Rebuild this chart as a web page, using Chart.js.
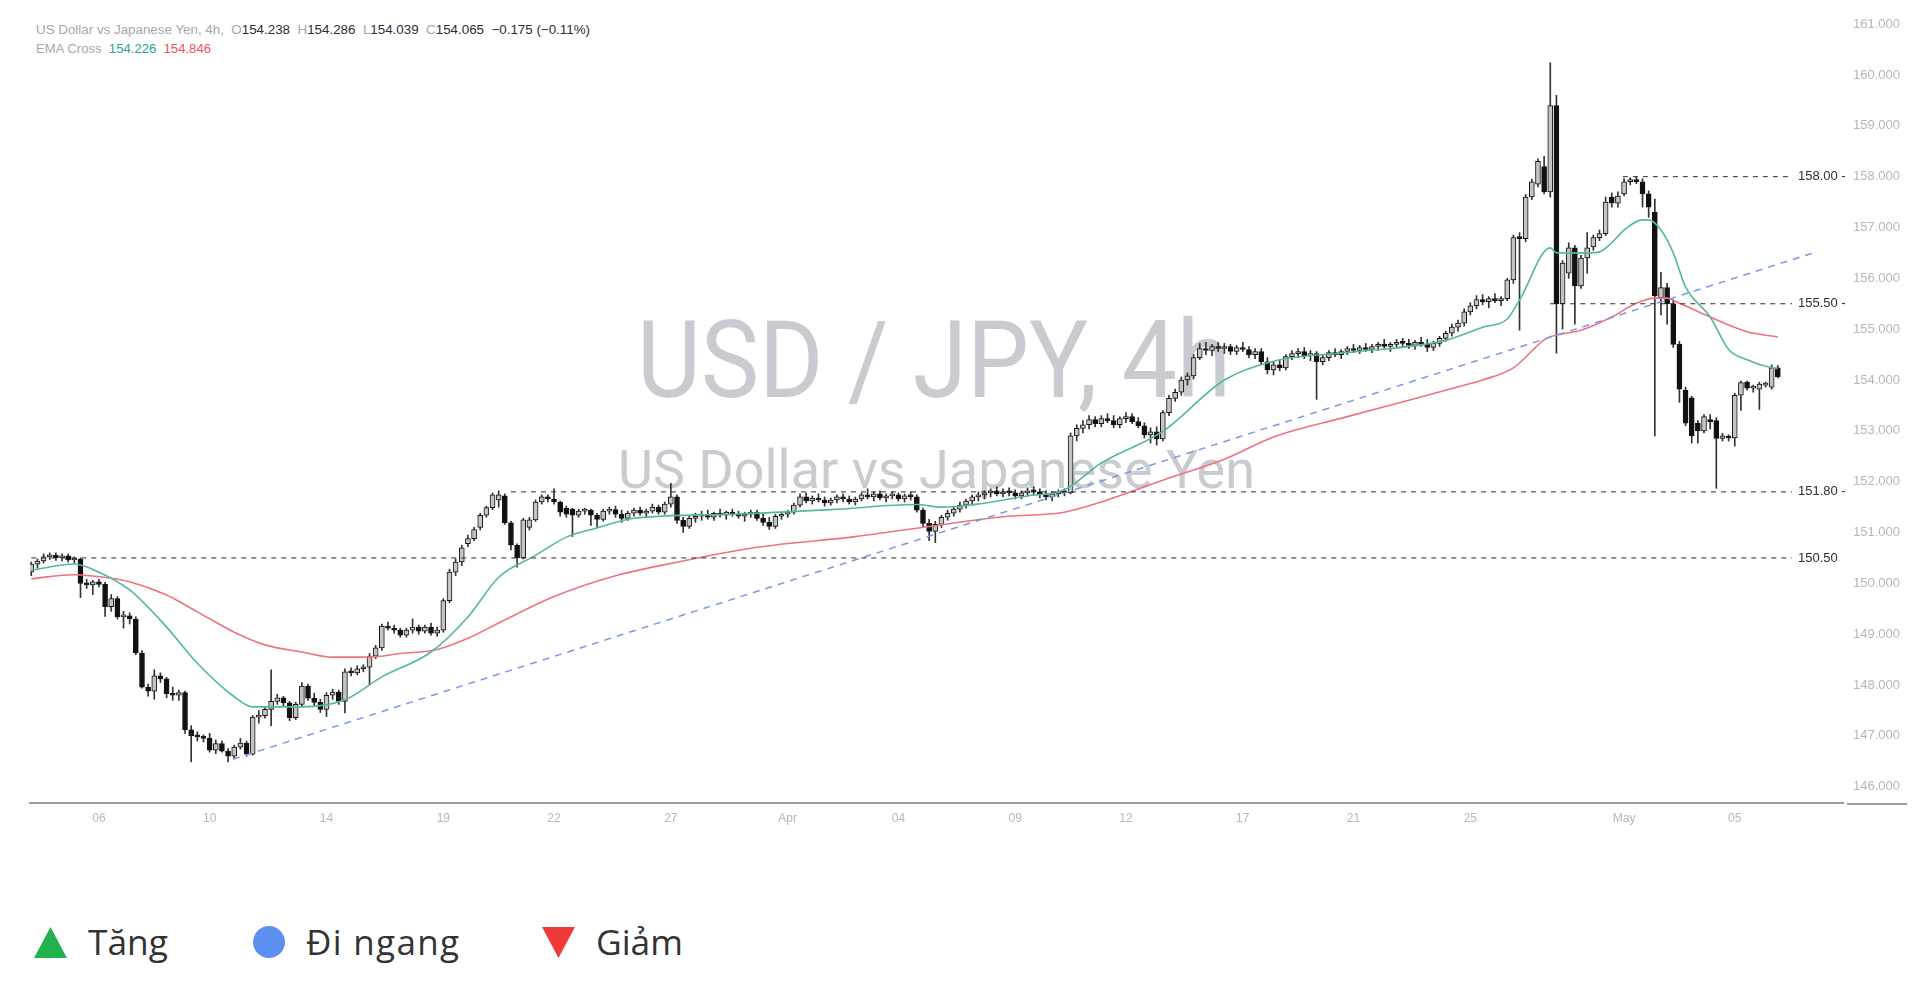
<!DOCTYPE html>
<html>
<head>
<meta charset="utf-8">
<script src="https://cdn.jsdelivr.net/npm/chart.js@4.4.1/dist/chart.umd.min.js"></script>
<style>
html,body{margin:0;padding:0;background:#fff;width:1920px;height:995px;overflow:hidden;}
#wrap{position:relative;width:1920px;height:995px;}
#bg{position:absolute;left:0;top:0;z-index:0;}
#c{position:absolute;left:0;top:0;z-index:1;}
</style>
</head>
<body>
<div id="wrap">
<svg id="bg" width="1920" height="995" xmlns="http://www.w3.org/2000/svg">
  <text x="637" y="397" font-family="Roboto, 'Liberation Sans', sans-serif" font-size="108" fill="#c9cbd0" textLength="594" lengthAdjust="spacingAndGlyphs">USD / JPY, 4h</text>
  <text x="618" y="488" font-family="Roboto, 'Liberation Sans', sans-serif" font-size="53" fill="#c9cbd0" textLength="637" lengthAdjust="spacingAndGlyphs">US Dollar vs Japanese Yen</text>
  <text x="36" y="34" font-family="'Liberation Sans', sans-serif" font-size="12.5" style="white-space:pre" textLength="554" lengthAdjust="spacingAndGlyphs"><tspan fill="#a3a6af">US Dollar vs Japanese Yen, 4h,  O</tspan><tspan fill="#2a2e39">154.238</tspan><tspan fill="#a3a6af">  H</tspan><tspan fill="#2a2e39">154.286</tspan><tspan fill="#a3a6af">  L</tspan><tspan fill="#2a2e39">154.039</tspan><tspan fill="#a3a6af">  C</tspan><tspan fill="#2a2e39">154.065  −0.175 (−0.11%)</tspan></text>
  <text x="36" y="53" font-family="'Liberation Sans', sans-serif" font-size="12.5" style="white-space:pre" textLength="175" lengthAdjust="spacingAndGlyphs"><tspan fill="#a3a6af">EMA Cross  </tspan><tspan fill="#26a38f">154.226</tspan><tspan fill="#a3a6af">  </tspan><tspan fill="#ef4f62">154.846</tspan></text>
  <polygon points="34,958 67,958 50.5,927" fill="#22b14c"/>
  <text x="88" y="955" font-family="'Open Sans', sans-serif" font-size="35" fill="#333333" textLength="80" lengthAdjust="spacingAndGlyphs">Tăng</text>
  <circle cx="269" cy="942" r="16" fill="#5b8ff0"/>
  <text x="306" y="955" font-family="'Open Sans', sans-serif" font-size="35" fill="#333333" textLength="153" lengthAdjust="spacing">Đi ngang</text>
  <polygon points="542,927 575,927 558.5,958" fill="#f03a3a"/>
  <text x="596" y="955" font-family="'Open Sans', sans-serif" font-size="35" fill="#333333" textLength="87" lengthAdjust="spacingAndGlyphs">Giảm</text>
</svg>
<canvas id="c" width="1920" height="995"></canvas>
</div>
<script>
// ---- Candles (4h USD/JPY), bar index 0..284 ----
const opens = [
150.22,150.38,150.44,150.52,150.55,150.50,150.54,150.46,150.48,150.00,
149.97,150.03,149.98,149.54,149.70,149.34,149.36,149.30,148.63,147.96,
147.88,148.18,148.12,147.83,147.80,147.85,147.12,147.00,146.98,146.95,
146.72,146.85,146.70,146.60,146.78,146.86,146.64,147.37,147.40,147.52,
147.68,147.75,147.65,147.36,147.62,147.98,147.74,147.66,147.52,147.80,
147.86,147.68,148.26,148.24,148.32,148.35,148.57,148.73,149.16,149.12,
149.08,148.98,149.08,149.14,149.06,149.14,149.02,149.08,149.66,150.22,
150.42,150.78,150.88,151.10,151.34,151.49,151.64,151.72,151.19,150.75,
150.50,151.10,151.25,151.60,151.70,151.66,151.60,151.48,151.46,151.34,
151.42,151.44,151.34,151.26,151.42,151.45,151.36,151.28,151.38,151.44,
151.38,151.42,151.50,151.40,151.56,151.70,151.24,151.12,151.28,151.32,
151.36,151.30,151.38,151.34,151.40,151.36,151.32,151.36,151.40,151.28,
151.20,151.12,151.32,151.36,151.40,151.54,151.70,151.62,151.68,151.64,
151.58,151.64,151.70,151.66,151.60,151.66,151.74,151.70,151.76,151.68,
151.72,151.74,151.66,151.72,151.70,151.44,151.18,151.02,151.16,151.30,
151.38,151.46,151.54,151.62,151.70,151.74,151.78,151.82,151.76,151.80,
151.78,151.72,151.78,151.82,151.80,151.74,151.70,151.76,151.80,151.78,
152.90,153.05,153.12,153.22,153.14,153.24,153.20,153.12,153.24,153.28,
153.18,153.10,152.92,152.98,152.84,153.36,153.64,153.76,154.00,154.08,
154.44,154.62,154.58,154.66,154.62,154.66,154.56,154.64,154.60,154.50,
154.56,154.36,154.20,154.30,154.24,154.46,154.52,154.56,154.48,154.52,
154.36,154.44,154.54,154.50,154.56,154.62,154.58,154.64,154.60,154.66,
154.70,154.66,154.70,154.74,154.72,154.68,154.74,154.70,154.64,154.72,
154.82,154.92,155.04,155.12,155.34,155.46,155.58,155.54,155.60,155.56,
155.60,155.97,156.80,156.78,157.60,157.85,158.20,157.70,159.40,155.50,
156.10,156.60,155.85,156.40,156.62,156.80,156.88,157.60,157.48,157.66,
157.90,157.94,157.90,157.66,157.30,155.62,155.82,155.50,154.70,153.80,
153.65,153.15,153.00,153.22,153.20,152.85,152.88,152.86,153.70,153.96,
153.84,153.82,153.90,153.86,154.238];
const highs = [
150.42,150.48,150.58,150.60,150.60,150.58,150.58,150.52,150.50,150.08,
150.06,150.08,150.02,149.78,149.74,149.45,149.42,149.34,148.68,148.02,
148.30,148.24,148.15,147.96,147.90,147.88,147.20,147.08,147.02,147.05,
146.92,146.90,146.75,146.82,146.95,146.90,147.40,147.50,147.58,148.30,
147.82,147.78,147.68,147.66,148.05,148.02,147.84,147.72,147.85,147.92,
147.90,148.32,148.34,148.38,148.40,148.62,148.78,149.20,149.24,149.18,
149.12,149.12,149.30,149.18,149.18,149.22,149.14,149.70,150.28,150.48,
150.75,150.95,151.10,151.38,151.52,151.78,151.82,151.76,151.22,150.78,
151.28,151.30,151.64,151.74,151.74,151.86,151.62,151.52,151.48,151.46,
151.48,151.46,151.38,151.46,151.50,151.52,151.44,151.42,151.48,151.50,
151.46,151.56,151.54,151.60,151.97,151.74,151.30,151.32,151.38,151.42,
151.44,151.40,151.46,151.42,151.46,151.42,151.40,151.44,151.44,151.36,
151.30,151.36,151.40,151.44,151.58,151.76,151.78,151.72,151.76,151.70,
151.68,151.74,151.76,151.72,151.70,151.78,151.86,151.80,151.82,151.76,
151.80,151.78,151.76,151.80,151.74,151.48,151.26,151.22,151.34,151.44,
151.50,151.60,151.66,151.74,151.80,151.82,151.86,151.90,151.86,151.88,
151.84,151.82,151.88,151.90,151.86,151.82,151.80,151.84,151.86,152.96,
153.12,153.20,153.30,153.28,153.30,153.34,153.30,153.28,153.36,153.34,
153.26,153.16,153.06,153.08,153.40,153.70,153.82,154.06,154.14,154.50,
154.72,154.74,154.70,154.74,154.72,154.70,154.68,154.74,154.66,154.62,
154.62,154.44,154.36,154.40,154.50,154.58,154.62,154.64,154.58,154.56,
154.50,154.58,154.62,154.60,154.66,154.70,154.68,154.72,154.70,154.74,
154.80,154.74,154.80,154.82,154.80,154.78,154.84,154.80,154.76,154.86,
154.96,155.10,155.18,155.40,155.52,155.66,155.68,155.64,155.70,155.64,
156.00,156.85,156.90,157.65,157.95,158.35,158.40,160.24,159.60,156.35,
156.70,156.65,156.45,156.90,156.85,156.95,157.60,157.68,157.70,157.96,
157.98,158.00,157.96,157.72,157.56,156.12,155.90,155.58,154.76,153.86,
153.68,153.20,153.32,153.32,153.26,152.95,152.92,153.74,153.98,153.98,
153.90,153.96,153.96,154.30,154.286];
const lows = [
150.15,150.30,150.40,150.47,150.45,150.44,150.42,150.40,149.72,149.90,
149.78,149.93,149.35,149.45,149.30,149.12,149.20,148.60,147.94,147.78,
147.72,148.05,147.75,147.70,147.70,147.05,146.49,146.90,146.88,146.68,
146.65,146.68,146.49,146.55,146.74,146.60,146.62,147.25,147.35,147.20,
147.62,147.58,147.30,147.32,147.58,147.70,147.60,147.46,147.38,147.72,
147.62,147.45,148.18,148.20,148.26,148.00,148.52,148.68,149.08,149.02,
148.94,148.94,149.02,149.00,149.02,148.98,148.96,149.04,149.62,150.15,
150.35,150.72,150.84,151.05,151.30,151.45,151.50,151.16,150.66,150.32,
150.48,151.05,151.22,151.56,151.60,151.56,151.32,151.30,150.92,151.30,
151.36,151.14,151.10,151.22,151.36,151.30,151.20,151.24,151.32,151.34,
151.30,151.38,151.36,151.36,151.50,151.18,151.00,151.08,151.20,151.24,
151.26,151.24,151.30,151.26,151.32,151.28,151.22,151.30,151.24,151.14,
151.06,151.08,151.26,151.30,151.36,151.50,151.58,151.56,151.60,151.52,
151.54,151.58,151.60,151.56,151.54,151.62,151.66,151.62,151.64,151.60,
151.66,151.62,151.60,151.64,151.40,151.10,150.84,150.80,151.10,151.24,
151.32,151.40,151.48,151.54,151.62,151.66,151.70,151.72,151.70,151.72,
151.66,151.66,151.72,151.74,151.68,151.64,151.62,151.70,151.72,151.76,
152.80,152.96,153.04,153.08,153.08,153.16,153.06,153.06,153.16,153.14,
153.06,152.86,152.76,152.72,152.80,153.30,153.58,153.70,153.90,154.02,
154.40,154.50,154.48,154.56,154.52,154.50,154.50,154.56,154.44,154.42,
154.30,154.12,154.10,154.18,154.20,154.40,154.44,154.42,154.38,153.62,
154.30,154.38,154.46,154.42,154.50,154.54,154.52,154.56,154.54,154.58,
154.62,154.56,154.64,154.66,154.62,154.60,154.66,154.56,154.58,154.66,
154.76,154.86,154.96,155.06,155.28,155.40,155.48,155.42,155.52,155.46,
155.56,155.90,154.98,156.72,157.55,157.80,157.66,157.60,154.53,155.00,
156.00,155.10,155.80,156.10,156.55,156.74,156.84,157.40,157.40,157.62,
157.84,157.86,157.40,157.20,152.90,155.28,155.10,154.64,153.56,153.10,
152.76,152.76,152.96,153.04,151.87,152.80,152.80,152.70,153.40,153.80,
153.76,153.42,153.86,153.82,154.039];
const closes = [
150.38,150.44,150.52,150.55,150.50,150.54,150.46,150.48,150.00,149.97,
150.03,149.98,149.54,149.70,149.34,149.36,149.30,148.63,147.96,147.88,
148.18,148.12,147.83,147.80,147.85,147.12,147.00,146.98,146.95,146.72,
146.85,146.70,146.60,146.78,146.86,146.64,147.37,147.40,147.52,147.68,
147.75,147.65,147.36,147.62,147.98,147.74,147.66,147.52,147.80,147.86,
147.68,148.26,148.24,148.32,148.35,148.57,148.73,149.16,149.12,149.08,
148.98,149.08,149.14,149.06,149.14,149.02,149.08,149.66,150.22,150.42,
150.70,150.88,151.06,151.34,151.49,151.74,151.74,151.19,150.75,150.50,
151.25,151.25,151.60,151.70,151.66,151.60,151.40,151.36,151.34,151.42,
151.44,151.34,151.26,151.42,151.45,151.36,151.28,151.38,151.44,151.38,
151.42,151.50,151.40,151.56,151.70,151.24,151.12,151.28,151.32,151.36,
151.30,151.38,151.34,151.40,151.36,151.32,151.36,151.40,151.28,151.20,
151.12,151.32,151.36,151.40,151.54,151.70,151.62,151.68,151.64,151.58,
151.64,151.70,151.66,151.60,151.66,151.74,151.70,151.76,151.68,151.72,
151.74,151.66,151.72,151.70,151.44,151.18,151.02,151.16,151.30,151.38,
151.46,151.54,151.62,151.70,151.74,151.78,151.82,151.76,151.80,151.78,
151.72,151.78,151.82,151.80,151.74,151.70,151.76,151.80,151.78,152.90,
153.05,153.12,153.22,153.14,153.24,153.20,153.12,153.24,153.28,153.18,
153.10,152.92,152.98,152.84,153.36,153.64,153.76,154.00,154.08,154.44,
154.62,154.58,154.66,154.62,154.66,154.56,154.64,154.60,154.50,154.56,
154.36,154.20,154.30,154.24,154.46,154.52,154.56,154.48,154.52,154.36,
154.44,154.54,154.50,154.56,154.62,154.58,154.64,154.60,154.66,154.70,
154.66,154.70,154.74,154.72,154.68,154.74,154.70,154.64,154.72,154.82,
154.92,155.04,155.12,155.34,155.46,155.58,155.54,155.60,155.56,155.60,
155.97,156.80,156.78,157.60,157.90,158.30,157.70,159.40,155.50,156.30,
156.60,155.85,156.40,156.60,156.80,156.88,157.50,157.48,157.62,157.90,
157.94,157.90,157.66,157.40,155.66,155.82,155.50,154.70,153.82,153.15,
152.90,153.00,153.28,153.18,152.85,152.90,152.86,153.70,153.95,153.84,
153.86,153.92,153.94,154.24,154.065];

// ---- EMA Cross lines at these bar indexes ----
const emaFastBars = [0,7,11,16,22,27,33,36,44,51,57,65,71,76,82,87,92,98,114,130,144,148,162,168,174,184,194,202,214,230,236,240,242,247,248,253,255,257,259,262,263,265,267,269,273,276,279,283,284];
const emaFastVals = [150.26,150.38,150.22,149.87,149.14,148.43,147.77,147.57,147.57,147.71,148.16,148.65,149.34,150.12,150.55,150.91,151.09,151.28,151.36,151.45,151.55,151.50,151.72,151.84,152.37,152.99,154.00,154.37,154.54,154.78,155.04,155.20,155.57,156.60,156.50,156.50,156.52,156.70,156.95,157.15,157.15,156.95,156.50,155.83,155.24,154.60,154.40,154.24,154.226];
const emaSlowBars = [0,7,13,16,22,27,33,38,44,49,55,60,66,71,76,85,95,106,118,134,146,158,168,174,184,194,202,214,224,234,236,241,246,247,252,257,261,264,266,268,273,276,279,284];
const emaSlowVals = [150.09,150.17,150.10,150.03,149.77,149.44,149.04,148.79,148.65,148.55,148.55,148.62,148.70,148.92,149.22,149.74,150.15,150.44,150.71,150.92,151.12,151.31,151.40,151.60,152.03,152.44,152.88,153.28,153.60,153.93,154.00,154.24,154.79,154.85,154.98,155.24,155.51,155.61,155.61,155.51,155.24,155.08,154.95,154.846];

// ---- Drawn levels and trend line ----
const levelValues = [158.00, 155.50, 151.80, 150.50];
const levelTexts = ['158.00 -', '155.50 -', '151.80 -', '150.50'];
const levelStartBars = [258.8, 247, 78, 0];
const levelEndBar = 286.3;
const trendBars = [32.8, 289.5];
const trendVals = [146.54, 156.49];

// ---- Axis ticks ----
const xTickBars = [11,29,48,67,85,104,123,141,160,178,197,215,234,259,277];
const xTickLabels = ['06','10','14','19','22','27','Apr','04','09','12','17','21','25','May','05'];
const yTicks = [146,147,148,149,150,151,152,153,154,155,156,157,158,159,160,161];

// ---- build datasets ----
const wickData = highs.map((h, i) => ({x: i, y: [lows[i], h]}));
const bodyData = opens.map((o, i) => ({x: i, y: [o, closes[i]]}));
const isUp = i => closes[i] >= opens[i];

const levelSets = levelValues.map((v, i) => ({
  type: 'line',
  data: [{x: levelStartBars[i], y: v}, {x: levelEndBar, y: v}],
  borderColor: '#2e2e2e', borderWidth: 1, borderDash: [5, 5],
  pointRadius: 0, order: 0
}));

const axisColor = '#9c9c9c';
const levelLabelPlugin = {
  id: 'levelLabels',
  afterDatasetsDraw(chart) {
    const {ctx, scales: {x, y}} = chart;
    ctx.save();
    ctx.font = '13px "Liberation Sans", sans-serif';
    ctx.fillStyle = '#2f2f2f';
    ctx.textAlign = 'left';
    ctx.textBaseline = 'middle';
    levelValues.forEach((v, i) => {
      ctx.fillText(levelTexts[i], x.getPixelForValue(levelEndBar) + 6, y.getPixelForValue(v));
    });
    // continuation of the time axis line under the price scale
    const ay = chart.chartArea.bottom + 1;
    ctx.strokeStyle = axisColor;
    ctx.lineWidth = 2;
    ctx.beginPath();
    ctx.moveTo(chart.chartArea.right + 4, ay);
    ctx.lineTo(chart.chartArea.right + 64, ay);
    ctx.stroke();
    ctx.restore();
  }
};

new Chart(document.getElementById('c'), {
  type: 'bar',
  data: {
    datasets: [
      ...levelSets,
      {
        type: 'line',
        data: trendBars.map((b, i) => ({x: b, y: trendVals[i]})),
        borderColor: '#7b98e6', borderWidth: 1.5, borderDash: [7, 6],
        pointRadius: 0, order: 0
      },
      {
        type: 'line',
        data: emaFastBars.map((b, i) => ({x: b, y: emaFastVals[i]})),
        borderColor: '#52b8a0', borderWidth: 1.6, pointRadius: 0,
        cubicInterpolationMode: 'monotone', order: 1
      },
      {
        type: 'line',
        data: emaSlowBars.map((b, i) => ({x: b, y: emaSlowVals[i]})),
        borderColor: '#ee7280', borderWidth: 1.6, pointRadius: 0,
        cubicInterpolationMode: 'monotone', order: 1
      },
      {
        data: bodyData,
        barThickness: 5,
        grouped: false,
        minBarLength: 2,
        borderSkipped: false,
        borderWidth: 1,
        borderColor: '#151515',
        backgroundColor: c => isUp(c.dataIndex) ? '#c4c4c4' : '#111111',
        order: 2
      },
      {
        data: wickData,
        barThickness: 1,
        grouped: false,
        borderWidth: 0,
        backgroundColor: '#333333',
        order: 3
      }
    ]
  },
  options: {
    responsive: false,
    animation: false,
    events: [],
    layout: {padding: {left: 30, top: 10, right: 0, bottom: 0}},
    plugins: {legend: {display: false}, tooltip: {enabled: false}},
    scales: {
      x: {
        type: 'linear',
        offset: false,
        min: -0.21,
        max: 294.6,
        grid: {display: false, drawTicks: false},
        border: {display: true, color: axisColor, width: 2},
        afterBuildTicks: s => { s.ticks = xTickBars.map(v => ({value: v})); },
        ticks: {
          autoSkip: false,
          maxRotation: 0,
          padding: 8,
          color: '#b4b7be',
          font: {family: "'Liberation Sans', sans-serif", size: 12},
          callback: v => xTickLabels[xTickBars.indexOf(v)]
        },
        afterFit: s => { s.height = 192; s.paddingLeft = 0; s.paddingRight = 0; }
      },
      y: {
        position: 'right',
        min: 145.68,
        max: 161.278,
        grid: {display: false, drawTicks: false},
        border: {display: false},
        afterBuildTicks: s => { s.ticks = yTicks.map(v => ({value: v})); },
        ticks: {
          padding: 10,
          crossAlign: 'near',
          color: '#b4b7be',
          font: {family: "'Liberation Sans', sans-serif", size: 13},
          callback: v => v.toFixed(3)
        },
        afterFit: s => { s.width = 77; s.paddingTop = 0; s.paddingBottom = 0; }
      }
    }
  },
  plugins: [levelLabelPlugin]
});
</script>
</body>
</html>
